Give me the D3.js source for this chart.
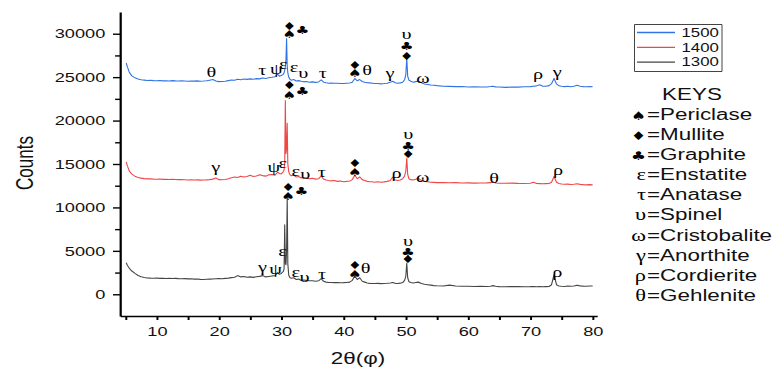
<!DOCTYPE html>
<html>
<head>
<meta charset="utf-8">
<script src="https://cdn.jsdelivr.net/npm/d3@7"></script>
<style>
  html, body { margin: 0; padding: 0; background: #fff; }
  svg { display: block; }
  text { font-family: "Liberation Sans", Arial, sans-serif; fill: #111; }
  .greek { font-family: "Liberation Serif", "DejaVu Serif", serif; }
  .suit { font-family: "DejaVu Sans", sans-serif; }
</style>
</head>
<body>
<div id="chart"></div>
<script>
// Diffraction angle grid (degrees 2θ), shared by the three firing temperatures
const twoTheta = [
  5.1, 5.3, 5.6, 6.0, 6.5, 7.0, 7.5, 8.0, 8.5, 9.0,
  9.5, 10.0, 10.5, 11.0, 11.5, 12.0, 12.5, 13.0, 13.5, 14.0,
  14.5, 15.0, 15.5, 16.0, 16.5, 17.0, 17.5, 18.0, 18.5, 19.0,
  19.5, 20.0, 20.5, 21.0, 21.5, 22.0, 22.5, 23.0, 23.5, 24.0,
  24.5, 25.0, 25.5, 26.0, 26.5, 27.0, 27.5, 28.0, 28.5, 29.0,
  29.4, 29.7, 30.0, 30.3, 30.45, 30.55, 30.65, 30.75, 30.85, 30.95,
  31.05, 31.2, 31.4, 31.6, 32.0, 32.4, 32.8, 33.2, 33.6, 34.0,
  34.5, 35.0, 35.5, 36.0, 36.4, 36.8, 37.2, 37.6, 38.0, 38.5,
  39.0, 39.5, 40.0, 40.5, 41.0, 41.4, 41.8, 42.2, 42.6, 43.0,
  43.4, 43.8, 44.2, 44.6, 45.0, 45.5, 46.0, 46.5, 47.0, 47.5,
  47.9, 48.3, 48.7, 49.1, 49.5, 49.8, 50.0, 50.15, 50.3, 50.5,
  50.8, 51.2, 51.6, 52.0, 52.5, 53.0, 53.5, 54.0, 54.5, 55.0,
  56.0, 57.0, 58.0, 59.0, 60.0, 61.0, 62.0, 63.0, 63.6, 64.0,
  64.4, 65.0, 66.0, 67.0, 68.0, 69.0, 70.0, 70.5, 71.0, 71.5,
  72.0, 72.5, 73.0, 73.4, 73.8, 74.2, 74.6, 75.0, 75.5, 76.0,
  76.5, 77.0, 77.5, 78.0, 78.5, 79.0, 79.5, 80.0
];

const counts1500 = [
  26630, 26150, 25550, 25150, 24920, 24780, 24700, 24660, 24620, 24640,
  24600, 24580, 24620, 24570, 24590, 24560, 24600, 24570, 24550, 24580,
  24560, 24530, 24560, 24540, 24570, 24530, 24550, 24580, 24650, 24720,
  24560, 24480, 24500, 24520, 24600, 24680, 24640, 24760, 24700, 24780,
  24740, 24800, 24760, 24830, 24800, 24900, 24850, 24930, 24980, 25050,
  25350, 25120, 25180, 25320, 25500, 25800, 26200, 27000, 29450, 26300,
  25500, 25000, 24750, 24650, 24720, 24560, 24600, 24520, 24460, 24500,
  24420, 24460, 24400, 24450, 24680, 24420, 24350, 24300, 24330, 24290,
  24300, 24270, 24260, 24300, 24320, 24420, 24850, 24580, 24720, 24500,
  24420, 24350, 24340, 24300, 24260, 24270, 24230, 24260, 24300, 24420,
  24520, 24360, 24300, 24340, 24420, 24700, 25300, 27200, 25100, 24650,
  24520, 24420, 24480, 24520, 24360, 24220, 24160, 24100, 24060, 24020,
  23960, 23940, 23910, 23920, 23870, 23900, 23860, 23870, 23920, 23960,
  23880, 23860, 23820, 23860, 23850, 23900, 23910, 23960, 24000, 24120,
  23960, 23950, 24020, 24250, 24850, 24220, 24000, 23950, 23910, 23960,
  23900, 23950, 24060, 23960, 23910, 23890, 23920, 23900
];

const counts1400 = [
  15250, 14750, 14180, 13830, 13600, 13450, 13370, 13320, 13290, 13300,
  13260, 13250, 13280, 13230, 13250, 13220, 13240, 13210, 13200, 13220,
  13190, 13160, 13180, 13150, 13170, 13140, 13150, 13170, 13200, 13260,
  13380, 13200, 13180, 13220, 13300, 13420, 13500, 13450, 13600, 13500,
  13560, 13700, 13560, 13620, 13760, 13660, 13600, 13750, 13800, 13720,
  14050, 13900, 13860, 14100, 14300, 15200, 22300, 16200, 16800, 19700,
  15000, 14100, 13750, 13650, 13720, 13500, 13560, 13400, 13450, 13400,
  13300, 13350, 13260, 13300, 13620, 13260, 13150, 13100, 13060, 13100,
  13000, 13050, 12960, 13000, 13050, 13200, 13700, 13300, 13520, 13200,
  13100, 13000, 12960, 12950, 12900, 12950, 12900, 12940, 13000, 13100,
  13500, 13150, 13100, 13150, 13300, 13600, 14200, 15650, 13800, 13300,
  13200, 13150, 13250, 13350, 13100, 13000, 12950, 12900, 12880, 12860,
  12850, 12840, 12860, 12820, 12830, 12800, 12820, 12830, 12850, 12950,
  12820, 12790, 12780, 12800, 12770, 12760, 12780, 12900, 12760, 12740,
  12720, 12740, 12760, 12900, 13550, 12900, 12760, 12700, 12660, 12680,
  12640, 12660, 12720, 12650, 12620, 12600, 12620, 12600
];

const counts1300 = [
  3630, 3310, 2990, 2680, 2410, 2160, 2020, 1930, 1880, 1860,
  1850, 1870, 1830, 1850, 1820, 1840, 1810, 1830, 1800, 1790,
  1800, 1770, 1780, 1750, 1760, 1720, 1710, 1730, 1750, 1760,
  1780, 1800, 1790, 1830, 1860, 1920, 1960, 2150, 2000, 2050,
  1960, 2000, 1950, 2010, 2060, 2150, 2000, 2050, 2100, 2150,
  2500, 2300, 2400, 2600, 2900, 8000, 3600, 3400, 5000, 11100,
  3500, 2200, 1900, 1850, 1900, 1700, 1750, 1600, 1650, 1600,
  1550, 1550, 1500, 1550, 1800, 1500, 1400, 1360, 1350, 1340,
  1350, 1330, 1340, 1360, 1400, 1600, 2100, 1700, 1900, 1500,
  1400, 1300, 1260, 1250, 1240, 1260, 1230, 1250, 1270, 1300,
  1350, 1260, 1250, 1280, 1350, 1600, 2100, 3560, 1900, 1450,
  1350, 1300, 1350, 1400, 1250, 1150, 1100, 1050, 1000, 980,
  960, 1050, 950, 930, 920, 900, 910, 900, 930, 1000,
  920, 880, 870, 890, 880, 870, 880, 900, 870, 880,
  860, 880, 900, 1100, 2250, 1100, 950, 920, 900, 950,
  920, 960, 1050, 970, 940, 930, 950, 950
];

const seriesNames = ["1500", "1400", "1300"];
const seriesColors = ["#2f74e2", "#f04646", "#454545"];

const xTicks = [10, 20, 30, 40, 50, 60, 70, 80];
const xMinorTicks = [5, 15, 25, 35, 45, 55, 65, 75];
const yTicks = [0, 5000, 10000, 15000, 20000, 25000, 30000];
const yMinorTicks = [2500, 7500, 12500, 17500, 22500, 27500];

// Phase markers on the traces: [symbol, 2θ, counts at baseline, stack id]
// Markers sharing a stack id belong to one reflection and are set as one label.
const phases1500 = [
  ["θ", 18.76, 25020], ["τ", 26.95, 25220], ["ψ", 29.2, 25330], ["ε", 30.3, 25950],
  ["ε", 32.04, 25600], ["υ", 33.53, 24870], ["τ", 36.66, 24870],
  ["♦", 31.32, 30480, "a"], ["♠", 31.32, 29560, "a"], ["♣", 33.4, 29930, "a"],
  ["♦", 41.83, 25990, "b"], ["♠", 41.83, 24960, "b"], ["θ", 43.8, 25220],
  ["γ", 47.45, 24870],
  ["υ", 50.13, 29360, "c"], ["♣", 50.13, 28090, "c"], ["♦", 50.13, 26940, "c"],
  ["ω", 52.74, 24300], ["ρ", 71.25, 24730], ["γ", 74.33, 25050]
];
const phases1400 = [
  ["♦", 31.32, 23580, "a"], ["♠", 31.32, 22430, "a"], ["♣", 33.4, 22920, "a"],
  ["γ", 19.49, 14120], ["ψ", 28.8, 14060], ["ε", 30.25, 14560],
  ["ε", 32.33, 13600], ["υ", 33.85, 13260], ["τ", 36.5, 13490],
  ["♦", 41.83, 14600, "b"], ["♠", 41.83, 13600, "b"],
  ["ρ", 48.52, 13370],
  ["υ", 50.39, 17860, "c"], ["♣", 50.39, 16590, "c"], ["♦", 50.39, 15640, "c"],
  ["ω", 52.71, 12950], ["θ", 64.17, 12760], ["ρ", 74.46, 13740]
];
const phases1300 = [
  ["♦", 31.12, 11910, "a"], ["♠", 31.12, 10840, "a"], ["♣", 33.25, 11420, "a"],
  ["ε", 30.19, 4400], ["γ", 27.0, 2620], ["ψ", 29.1, 2330],
  ["ε", 32.33, 1950], ["υ", 33.75, 1450], ["τ", 36.55, 1720],
  ["♦", 41.83, 2870, "b"], ["♠", 41.83, 1840, "b"], ["θ", 43.55, 2410],
  ["υ", 50.34, 5590, "c"], ["♣", 50.34, 4400, "c"], ["♦", 50.34, 3560, "c"],
  ["ρ", 74.33, 1990]
];

const keySymbols = ["♠", "♦", "♣", "ε", "τ", "υ", "ω", "γ", "ρ", "θ"];
const keyNames = ["Periclase", "Mullite", "Graphite", "Enstatite", "Anatase",
                  "Spinel", "Cristobalite", "Anorthite", "Cordierite", "Gehlenite"];

// ---- layout ----
const W = 781, H = 373;
const SX = 1.4;                 // horizontal stretch of the whole drawing
const VW = W / SX;
const plot = { left: 120 / SX, right: 597 / SX, top: 12, bottom: 316 };

const svg = d3.select("#chart").append("svg")
  .attr("width", W).attr("height", H)
  .attr("viewBox", `0 0 ${VW} ${H}`)
  .attr("preserveAspectRatio", "none");

const x = d3.scaleLinear().domain([4.1, 80.7]).range([plot.left, plot.right]);
const y = d3.scaleLinear().domain([-2500, 32500]).range([plot.bottom, plot.top]);

// ---- traces ----
const seriesData = [counts1500, counts1400, counts1300];
const line = d3.line().x(d => x(d[0])).y(d => y(d[1]));
seriesData.forEach((vals, k) => {
  svg.append("path")
    .datum(twoTheta.map((t, i) => [t, vals[i]]))
    .attr("fill", "none")
    .attr("stroke", seriesColors[k])
    .attr("stroke-width", 1.1)
    .attr("stroke-linejoin", "round")
    .attr("vector-effect", "non-scaling-stroke")
    .attr("d", line);
});

// ---- axes ----
svg.append("g").attr("transform", `translate(0,${plot.bottom})`)
  .call(d3.axisBottom(x).tickValues(xTicks).tickSize(4).tickPadding(7).tickSizeOuter(0));
svg.append("g").attr("transform", `translate(0,${plot.bottom})`)
  .call(d3.axisBottom(x).tickValues(xMinorTicks).tickSize(4).tickFormat("").tickSizeOuter(0))
  .call(g => g.select(".domain").remove());

svg.append("g").attr("transform", `translate(${plot.left},0)`)
  .call(d3.axisLeft(y).tickValues(yTicks).tickFormat(d3.format("d"))
    .tickSize(5).tickPadding(5.5).tickSizeOuter(0));
svg.append("g").attr("transform", `translate(${plot.left},0)`)
  .call(d3.axisLeft(y).tickValues(yMinorTicks).tickSize(3.5).tickFormat("").tickSizeOuter(0))
  .call(g => g.select(".domain").remove());

svg.selectAll(".domain").attr("stroke", "#000").attr("stroke-width", 1.6);
svg.selectAll(".tick line").attr("stroke", "#000").attr("stroke-width", 1.4);
svg.selectAll(".tick text")
  .attr("fill", "#111")
  .style("font-family", '"Liberation Sans", Arial, sans-serif')
  .style("font-size", "13px");

// axis titles
svg.append("text")
  .attr("transform", `translate(${33 / SX},163) rotate(-90)`)
  .attr("text-anchor", "middle")
  .style("font-size", "17px")
  .text("Counts");
svg.append("text")
  .attr("x", 358 / SX).attr("y", 364)
  .attr("text-anchor", "middle")
  .style("font-size", "16px")
  .text("2θ(φ)");

// ---- phase markers ----
const suits = new Set(["♠", "♦", "♣"]);
function drawMarkers(list) {
  const groups = d3.groups(list, (d, i) => d[3] || "single" + i);
  const g = svg.append("g");
  groups.forEach(([, items]) => {
    const t = g.append("text").attr("text-anchor", "middle");
    items.forEach(d => {
      t.append("tspan")
        .attr("class", suits.has(d[0]) ? "suit" : "greek")
        .attr("x", x(d[1]))
        .attr("y", y(d[2]))
        .style("font-size", suits.has(d[0]) ? "11px" : "14.5px")
        .style("fill", "#000")
        .text(d[0]);
    });
  });
}
[phases1500, phases1400, phases1300].forEach(drawMarkers);

// ---- series legend ----
const lg = svg.append("g");
lg.append("rect")
  .attr("x", 634.5 / SX).attr("y", 24.5)
  .attr("width", (722 - 634.5) / SX).attr("height", 47)
  .attr("fill", "#fff").attr("stroke", "#444").attr("stroke-width", 1)
  .attr("vector-effect", "non-scaling-stroke");
seriesNames.forEach((name, i) => {
  const cy = 32.5 + i * 14.8;
  lg.append("line")
    .attr("x1", 637 / SX).attr("x2", 675 / SX)
    .attr("y1", cy).attr("y2", cy)
    .attr("stroke", seriesColors[i]).attr("stroke-width", 1.3)
    .attr("vector-effect", "non-scaling-stroke");
  lg.append("text")
    .attr("x", 681.5 / SX).attr("y", cy + 4.3)
    .style("font-size", "12px")
    .text(name);
});

// ---- phase keys ----
const kg = svg.append("g");
kg.append("text")
  .attr("x", 692 / SX).attr("y", 100)
  .attr("text-anchor", "middle")
  .style("font-size", "16px")
  .text("KEYS");
keySymbols.forEach((sym, i) => {
  const by = 120 + i * 20.1;
  const t = kg.append("text").attr("y", by);
  t.append("tspan")
    .attr("class", suits.has(sym) ? "suit" : "greek")
    .attr("x", 646 / SX)
    .attr("text-anchor", "end")
    .style("font-size", suits.has(sym) ? "12px" : "16px")
    .style("fill", "#000")
    .text(sym);
  kg.append("text")
    .attr("x", 647 / SX).attr("y", by)
    .style("font-size", "16px")
    .text("=" + keyNames[i]);
});
</script>
</body>
</html>
